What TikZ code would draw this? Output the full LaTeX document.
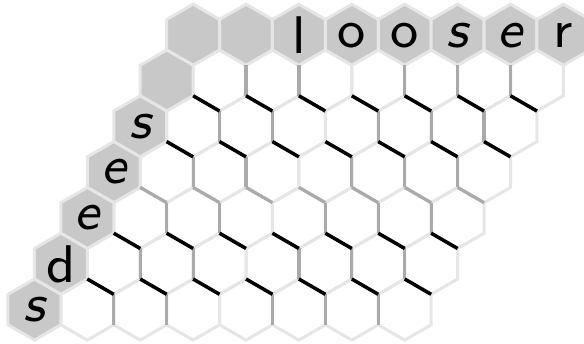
\documentclass[tikz,border=0pt]{standalone}
\definecolor{hexfill}{RGB}{200,200,200}
\definecolor{lightedge}{RGB}{230,230,230}
\definecolor{midedge}{RGB}{170,170,170}
\font\hexup=cmss8 at 53pt
\font\hexit=cmssi8 at 53pt
\begin{document}
\begin{tikzpicture}[x=1pt,y=-1pt,
  lt/.style={draw=lightedge,line width=3pt,line join=miter},
  grayhex/.style={fill=hexfill,draw=lightedge,line width=3pt},
  med/.style={draw=midedge,line width=3.2pt},
  blk/.style={draw=black,line width=3.5pt},
  letter/.style={inner sep=0pt,font=\hexup},
  iletter/.style={inner sep=0pt,font=\hexit}]
\useasboundingbox (0,0) rectangle (584,343);
\def\hw{26.45}\def\R{30.54}\def\Rh{15.27}
% white cells
\foreach \r in {1,...,6}{\foreach \c in {1,...,7}{
  \pgfmathsetmacro\cx{193.1+52.9*\c-26.45*\r}
  \pgfmathsetmacro\cy{34.7+45.81*\r}
  \draw[lt] ({\cx},{\cy-\R}) -- ++(\hw,\Rh) -- ++(0,\R) -- ++(-\hw,\Rh) -- ++(-\hw,-\Rh) -- ++(0,-\R) -- cycle;
}}
% gray header cells: top row
\foreach \c in {0,...,7}{
  \pgfmathsetmacro\cx{193.1+52.9*\c}
  \pgfmathsetmacro\cy{34.7}
  \draw[grayhex] ({\cx},{\cy-\R}) -- ++(\hw,\Rh) -- ++(0,\R) -- ++(-\hw,\Rh) -- ++(-\hw,-\Rh) -- ++(0,-\R) -- cycle;
}
% gray header cells: left column
\foreach \r in {1,...,6}{
  \pgfmathsetmacro\cx{193.1-26.45*\r}
  \pgfmathsetmacro\cy{34.7+45.81*\r}
  \draw[grayhex] ({\cx},{\cy-\R}) -- ++(\hw,\Rh) -- ++(0,\R) -- ++(-\hw,\Rh) -- ++(-\hw,-\Rh) -- ++(0,-\R) -- cycle;
}
% vertical edges between distinct column letters
\foreach \r in {1,...,6}{\foreach \c in {2,3,5,6,7}{
  \pgfmathsetmacro\cx{193.1+52.9*\c-26.45*\r}
  \pgfmathsetmacro\cy{34.7+45.81*\r}
  \draw[med] ({\cx-\hw},{\cy-\Rh}) -- ++(0,\R);
}}
% upper-right edges between rows
\foreach \r/\st in {2/blk,3/blk,4/med,5/blk,6/blk}{\foreach \c in {1,...,7}{
  \pgfmathsetmacro\cx{193.1+52.9*\c-26.45*\r}
  \pgfmathsetmacro\cy{34.7+45.81*\r}
  \draw[\st] ({\cx},{\cy-\R}) -- ++(\hw,\Rh);
}}
% letters
\node[letter] (t2) at (298.9,34.7) {l};
\node[letter] (t3) at (351.8,35.5) {o};
\node[letter] (t4) at (404.7,35.5) {o};
\node[iletter] (t5) at (457.6,35.5) {s};
\node[iletter] (t6) at (510.5,35.5) {e};
\node[letter] (t7) at (563.4,35.5) {r};
\node[iletter] (l2) at (140.2,126.3) {s};
\node[iletter] (l3) at (113.75,172.1) {e};
\node[iletter] (l4) at (87.3,217.9) {e};
\node[letter] (l5) at (60.85,263.8) {d};
\node[iletter] (l6) at (34.4,309.6) {s};
\end{tikzpicture}
\end{document}
